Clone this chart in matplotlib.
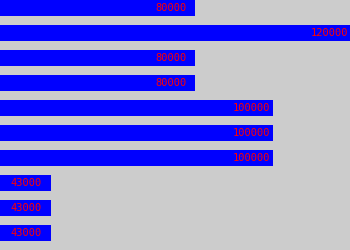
import matplotlib
matplotlib.use("Agg")
import matplotlib.pyplot as plt

# bar values, top to bottom
values = [80000, 120000, 80000, 80000, 100000, 100000, 100000, 43000, 43000, 43000]
labels = [str(v) for v in values]

fig = plt.figure(figsize=(3.5, 2.5), dpi=100, facecolor='#cccccc')
ax = fig.add_axes([0, 0, 1, 1])
ax.set_facecolor('#cccccc')

pos = list(range(len(values)))
ax.barh(pos, values, height=0.64, color='#0000ff', left=0)

for i, (v, lab) in enumerate(zip(values, labels)):
    # label starts ~40px left of bar end
    ax.annotate(lab, xy=(v, i), xytext=(-28.8, 0), textcoords='offset points',
                ha='left', va='center', color='#ff0000',
                family='DejaVu Sans Mono', fontsize=7.5, annotation_clip=False)

ax.set_xlim(30000, 119750)
ax.set_ylim(9.68, -0.32)
ax.axis('off')

fig.savefig('out.png', dpi=100, facecolor='#cccccc')
